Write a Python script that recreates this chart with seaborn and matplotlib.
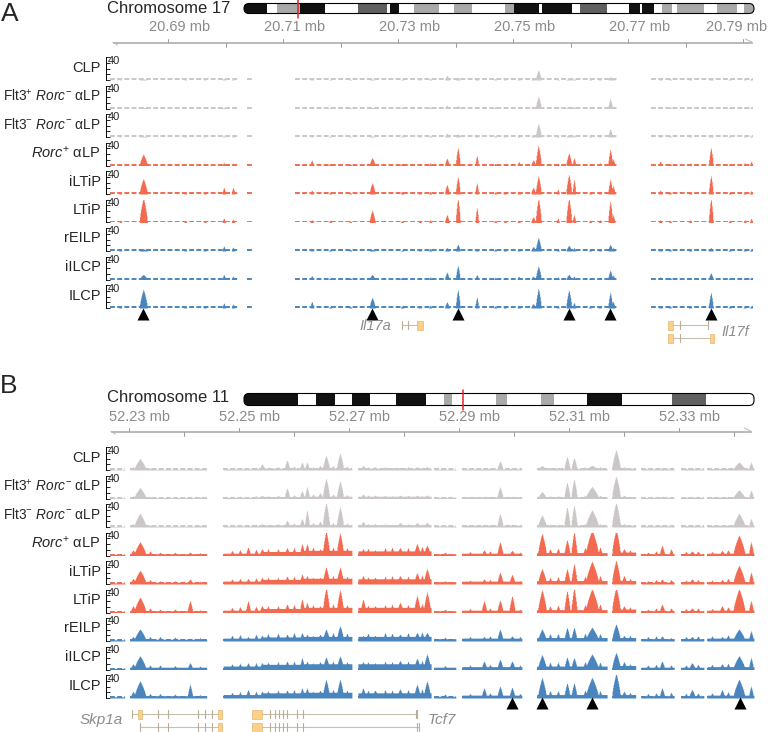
import numpy as np
import pandas as pd
import matplotlib
matplotlib.use("Agg")
import matplotlib.pyplot as plt
from matplotlib.patches import FancyBboxPatch, Rectangle
import seaborn as sns

# ---- data -------------------------------------------------------------
track_names = ["CLP", "Flt3+ Rorc- aLP", "Flt3- Rorc- aLP", "Rorc+ aLP",
               "iLTiP", "LTiP", "rEILP", "iILCP", "ILCP"]
track_labels = ["CLP", r"Flt3$^{+}$ $\mathit{Rorc}^{-}$ αLP",
                r"Flt3$^{-}$ $\mathit{Rorc}^{-}$ αLP", r"$\mathit{Rorc}^{+}$ αLP",
                "iLTiP", "LTiP", "rEILP", "iILCP", "ILCP"]

# panel A: chr17 (mb)
a_ticks = [20.69, 20.70, 20.71, 20.72, 20.73, 20.74, 20.75, 20.76, 20.77, 20.78, 20.79]
a_segments = [(20.6799, 20.7022), (20.7037, 20.7046), (20.7121, 20.7681), (20.7740, 20.7917)]
a_peak_pos = [20.6857, 20.6997, 20.7013, 20.7150, 20.7255, 20.7307, 20.7385, 20.7404,
              20.7437, 20.7510, 20.7535, 20.7544, 20.7578, 20.7597, 20.7606, 20.7669,
              20.7674, 20.7756, 20.7844, 20.7914]
a_peak_kb = [1.4, 0.6, 0.6, 0.6, 1.0, 0.6, 0.8, 0.8, 0.6, 0.6,
             0.8, 1.0, 0.5, 1.0, 0.6, 0.8, 0.6, 0.6, 0.8, 0.5]
a_heights = [
    [2, 3, 2, 2, 2, 2, 8, 5, 4, 3, 4, 18, 2, 3, 2, 6, 3, 3, 4, 3],
    [2, 2, 2, 1, 2, 2, 6, 5, 3, 3, 4, 22, 2, 4, 3, 18, 4, 3, 4, 3],
    [2, 2, 2, 1, 2, 2, 7, 6, 4, 3, 4, 24, 2, 4, 3, 15, 4, 3, 4, 3],
    [20, 5, 4, 10, 14, 4, 13, 32, 18, 7, 10, 36, 4, 22, 14, 29, 12, 8, 32, 8],
    [27, 12, 12, 7, 20, 5, 17, 31, 20, 5, 12, 32, 9, 35, 26, 26, 15, 7, 33, 6],
    [44, 8, 6, 5, 22, 3, 14, 44, 27, 3, 10, 44, 8, 44, 14, 38, 14, 5, 44, 8],
    [4, 9, 7, 2, 3, 2, 6, 12, 3, 3, 8, 24, 5, 10, 6, 12, 6, 3, 6, 4],
    [9, 9, 6, 7, 9, 4, 13, 25, 9, 6, 6, 24, 5, 9, 6, 17, 8, 5, 12, 4],
    [33, 9, 7, 12, 19, 4, 11, 33, 20, 5, 8, 35, 4, 32, 10, 28, 12, 4, 28, 4],
]
# small bumps: position, then height for gray / red / blue tracks
a_minor_pos = [20.6817, 20.6930, 20.6964, 20.7182, 20.7217, 20.7338, 20.7356, 20.7469,
               20.7486, 20.7634, 20.7651, 20.7773, 20.7808, 20.7877, 20.7903]
a_minor_gray = [1, 2, 1, 2, 2, 2, 3, 3, 3, 3, 3, 3, 3, 3, 3]
a_minor_red = [3, 3, 3, 4, 3, 4, 5, 4, 4, 4, 5, 4, 5, 4, 5]
a_minor_blue = [3, 3, 3, 3, 3, 4, 5, 4, 4, 4, 4, 4, 4, 4, 4]
a_arrows = [20.6857, 20.7255, 20.7404, 20.7597, 20.7669, 20.7844]

# panel B: chr11 (mb)
b_ticks = [52.23, 52.24, 52.25, 52.26, 52.27, 52.28, 52.29, 52.30, 52.31, 52.32, 52.33, 52.34]
b_segments = [(52.2265, 52.22927), (52.23018, 52.24418), (52.24709, 52.25400),
              (52.25400, 52.26109), (52.26109, 52.27055), (52.27164, 52.28491),
              (52.28545, 52.28945), (52.29055, 52.30145), (52.30418, 52.31691),
              (52.31782, 52.32218), (52.32309, 52.32909), (52.33036, 52.33455),
              (52.33509, 52.3436)]
b_background = [
    [1, 1.5, 2, 3, 3, 3, 1.5, 2, 2.5, 3, 2, 2, 2.5],
    [1, 1.5, 2, 3.5, 4, 4, 2, 3, 3, 3, 2, 2, 2.5],
    [1, 1.5, 2, 3.5, 4, 4, 2, 3, 3, 3, 2, 2, 3],
    [2, 3, 4, 7, 9, 8, 3, 4, 5, 6, 3, 3, 4],
    [2, 3, 5, 8, 10, 9, 4, 5, 6, 6, 3, 4, 4],
    [2, 3, 4, 7, 9, 9, 3, 4, 5, 6, 3, 3, 4],
    [2, 3, 5, 7, 8, 8, 4, 5, 6, 6, 4, 4, 5],
    [2, 4, 6, 9, 10, 10, 4, 5, 6, 7, 4, 4, 5],
    [2, 4, 6, 9, 10, 9, 3, 5, 6, 6, 4, 4, 5],
]
b_peak_pos = [52.23073, 52.23200, 52.24109, 52.25164, 52.25418, 52.25873, 52.26145, 52.26236,
              52.26345, 52.26473, 52.26582, 52.26836, 52.27255, 52.27473, 52.27927, 52.28236,
              52.28418, 52.29455, 52.29745, 52.29964, 52.30509, 52.30964, 52.31091, 52.31418,
              52.31855, 52.32000, 52.32691, 52.32855, 52.33236, 52.33782, 52.34091, 52.34309]
b_peak_kb = [1.0, 2.2, 1.0, 0.9, 1.0, 1.0, 0.9, 0.9, 0.8, 1.0, 1.3, 1.3, 1.0, 1.2, 1.2, 1.2,
             1.3, 1.0, 1.1, 1.1, 1.6, 1.1, 1.1, 2.4, 1.6, 1.0, 1.0, 0.8, 1.2, 1.0, 2.2, 0.9]
b_heights = [
    [6, 20, 3, 3, 11, 18, 14, 14, 6, 8, 26, 30, 8, 6, 5, 6, 6, 4, 16, 4, 8, 24, 22, 8, 36, 6, 4, 4, 4, 4, 14, 14],
    [5, 19, 3, 3, 6, 19, 14, 21, 8, 10, 36, 31, 8, 6, 6, 6, 6, 4, 21, 4, 12, 29, 35, 21, 40, 6, 4, 4, 4, 4, 15, 15],
    [6, 24, 3, 3, 6, 12, 15, 30, 8, 10, 44, 36, 10, 6, 8, 8, 8, 5, 24, 5, 21, 36, 39, 30, 44, 6, 4, 4, 4, 4, 24, 15],
    [10, 24, 6, 15, 12, 14, 21, 21, 15, 12, 44, 40, 12, 10, 14, 21, 18, 10, 24, 9, 39, 28, 42, 45, 46, 12, 18, 12, 8, 9, 36, 24],
    [10, 24, 9, 10, 12, 14, 18, 15, 12, 12, 30, 30, 15, 12, 15, 20, 27, 9, 21, 17, 27, 27, 36, 40, 42, 15, 9, 8, 9, 8, 33, 21],
    [12, 27, 21, 21, 12, 15, 24, 18, 14, 12, 44, 40, 24, 12, 18, 30, 36, 21, 22, 30, 40, 39, 44, 42, 45, 12, 15, 8, 8, 12, 42, 21],
    [8, 21, 5, 8, 10, 12, 15, 12, 10, 12, 21, 27, 10, 10, 12, 15, 15, 8, 21, 9, 21, 24, 24, 24, 30, 10, 9, 6, 8, 8, 21, 18],
    [10, 24, 12, 12, 12, 15, 21, 15, 12, 14, 22, 24, 14, 12, 16, 20, 27, 15, 18, 15, 26, 22, 21, 27, 30, 14, 15, 8, 12, 10, 24, 21],
    [12, 30, 24, 15, 12, 14, 18, 18, 12, 14, 33, 33, 18, 14, 16, 24, 30, 18, 21, 19, 36, 27, 27, 36, 44, 12, 18, 10, 15, 15, 33, 21],
]
b_minor_pos = [52.23382, 52.23564, 52.23836, 52.24291, 52.24873, 52.25018, 52.25309, 52.25527,
               52.25709, 52.26000, 52.26709, 52.26964, 52.27345, 52.27655, 52.27782, 52.28073,
               52.28327, 52.28745, 52.29200, 52.29564, 52.30109, 52.30655, 52.30800, 52.31291,
               52.31564, 52.32109, 52.32436, 52.32582, 52.33127, 52.33345, 52.33600, 52.33891]
b_minor_gray = [4, 3, 3, 3, 4, 4, 5, 5, 6, 7, 8, 7, 6, 6, 5, 6, 5, 3, 4, 4, 3, 5, 5, 6,
                6, 4, 3, 3, 3, 3, 3, 4]
b_minor_red = [8, 6, 6, 5, 9, 10, 11, 12, 12, 14, 15, 14, 13, 14, 15, 14, 16, 6, 7, 8, 6, 12,
               13, 14, 15, 10, 6, 8, 7, 8, 7, 10]
b_minor_blue = [8, 8, 7, 6, 10, 11, 12, 13, 14, 15, 15, 14, 14, 15, 14, 15, 16, 7, 8, 9, 8, 13,
                13, 14, 13, 10, 8, 9, 8, 9, 9, 11]
b_arrows = [52.29964, 52.30509, 52.31418, 52.34109]

# cytobands (pixel edges of the ideogram) and shades
cyto17_edges = [244, 267, 277, 300, 325, 358, 387, 390, 399, 414, 439, 454, 472, 505, 514, 539,
                542, 572, 580, 607, 629, 640, 642, 654, 662, 672, 677, 704, 717, 737, 744, 754]
cyto17_shades = ["k", "w", "lg", "k", "w", "dg", "w", "k", "w", "lg", "w", "lg", "w", "lg", "k",
                 "w", "k", "w", "dg", "w", "k", "w", "k", "w", "lg", "w", "lg", "w", "lg", "w", "lg"]
cyto11_edges = [244, 298, 316, 335, 352, 370, 396, 426, 444, 452, 496, 507, 541, 554, 587, 622,
                672, 706, 754]
cyto11_shades = ["k", "w", "k", "w", "k", "w", "k", "w", "lg", "w", "lg", "w", "lg", "w", "k",
                 "w", "dg", "w"]

# gene models: (row y, span, exon boxes, thin exon ticks)
il17a = [(325, (20.7307, 20.7343), [(20.7333, 20.7343)], [20.7307, 20.7317])]
il17f = [(325, (20.7770, 20.7839), [(20.7770, 20.7778)], [20.7790, 20.7839]),
         (338, (20.7770, 20.7850), [(20.7770, 20.7778), (20.7843, 20.7850)], [20.7790])]
skp1a = [(714, (52.23055, 52.24691), [(52.23164, 52.23236), (52.24618, 52.24691)],
          [52.23055, 52.23527, 52.23709, 52.24255, 52.24382, 52.24509]),
         (727, (52.23200, 52.24691), [(52.24618, 52.24691)],
          [52.23200, 52.23527, 52.23709, 52.24255, 52.24382, 52.24509])]
tcf7 = [(714, (52.25236, 52.28236), [(52.25236, 52.25418)],
         [52.25564, 52.25655, 52.25727, 52.25800, 52.25873, 52.26055, 52.26164, 52.28218, 52.28236]),
        (727, (52.25236, 52.28273), [(52.25236, 52.25418)],
         [52.25564, 52.25655, 52.25727, 52.25800, 52.25873, 52.26055, 52.26164, 52.28236, 52.28273])]

# ---- style ------------------------------------------------------------
sns.set_style("white")
plt.rcParams["font.family"] = ["Liberation Sans", "DejaVu Sans"]
plt.rcParams["mathtext.fontset"] = "custom"
plt.rcParams["mathtext.rm"] = "Liberation Sans"
plt.rcParams["mathtext.it"] = "Liberation Sans:italic"
plt.rcParams["mathtext.bf"] = "Liberation Sans:bold"

GRAY, RED, BLUE = "#cbc7c6", "#f26a50", "#4a85bd"
track_colors = [GRAY] * 3 + [RED] * 3 + [BLUE] * 3
shade_col = {"k": "#111111", "w": "white", "lg": "#a9a9a9", "dg": "#606060"}

W, H = 768, 732
fig = plt.figure(figsize=(W / 100, H / 100), dpi=100)


def px_axes(x0, y0, x1, y1):
    return fig.add_axes([x0 / W, 1 - y1 / H, (x1 - x0) / W, (y1 - y0) / H])


ov = px_axes(0, 0, W, H)
ov.set_xlim(0, W)
ov.set_ylim(H, 0)
ov.axis("off")


def draw_ideogram(edges, shades, y0, h, red_x):
    outline = FancyBboxPatch((edges[0], y0), edges[-1] - edges[0], h,
                             boxstyle="round,pad=0,rounding_size=5",
                             fc="none", ec="black", lw=0.8, zorder=3)
    ov.add_patch(outline)
    clip = FancyBboxPatch((edges[0], y0), edges[-1] - edges[0], h,
                          boxstyle="round,pad=0,rounding_size=5", transform=ov.transData)
    for s, e, sh in zip(edges[:-1], edges[1:], shades):
        r = Rectangle((s, y0), e - s, h, fc=shade_col[sh], ec="none", zorder=2)
        ov.add_patch(r)
        r.set_clip_path(clip)
    ov.plot([red_x, red_x], [y0 - 4, y0 + h + 4], color="#e3242b", lw=1.1, zorder=4)


def draw_ruler(ax, xlim, y, ticks, label_y):
    x0, x1 = xlim
    for dy in (0, 1.6):
        ax.plot([x0, x1], [y + dy, y + dy], color="#b8b8b8", lw=0.7, clip_on=False)
    ax.plot([x1 - 0.0012, x1], [y - 2.5, y + 0.8], color="#b8b8b8", lw=0.7, clip_on=False)
    ax.plot([x0 + 0.0008, x0], [y + 3.5, y + 0.8], color="#b8b8b8", lw=0.7, clip_on=False)
    for k, t in enumerate(ticks):
        if k % 2 == 0:
            ax.plot([t, t], [y - 3, y], color="#9a9a9a", lw=0.7, clip_on=False)
            lx = min(t + 0.002, xlim[1] - 0.0028)
            ax.text(lx, label_y, f"{t:.2f} mb", ha="center", va="center",
                    fontsize=10.5, color="#8a8a8a", clip_on=False)
        else:
            ax.plot([t, t], [y + 1.6, y + 5], color="#9a9a9a", lw=0.7, clip_on=False)


def build_signal(centers, segs, levels, peaks):
    sig = np.zeros_like(centers)
    cov = np.zeros(centers.shape, bool)
    for (s, e), lv in zip(segs, levels):
        m = (centers >= s) & (centers < e)
        cov |= m
        sig[m] = lv
    for p, w, h in peaks:
        half = w / 1000 / 2
        shape = np.clip(1 - np.abs(centers - p) / half, 0, 1) ** 0.7
        sig = np.maximum(sig, h * shape)
    sig[~cov] = 0
    return sig


def draw_tracks(top0, xlim, segs, bg, pos, kb, heights, mpos, mgray, mred, mblue, mkb):
    step = 0.0001
    centers = np.arange(xlim[0] + step / 2, xlim[1], step)
    for i in range(9):
        top = top0 + 28.5 * i
        ax = px_axes(105.5, top, 754, top + 23)
        levels = bg[i] if bg is not None else [0] * len(segs)
        minor = [mgray, mred, mblue][i // 3]
        peaks = list(zip(pos, kb, heights[i])) + [(p, mkb, h) for p, h in zip(mpos, minor)]
        sig = build_signal(centers, segs, levels, peaks)
        df = pd.DataFrame({"pos": centers, "signal": sig})
        sns.histplot(data=df, x="pos", weights="signal", binwidth=step,
                     binrange=(xlim[0], xlim[0] + step * len(centers)),
                     element="step", fill=True, color=track_colors[i], alpha=1,
                     linewidth=0, ax=ax)
        for s, e in segs:
            ax.plot([s, e], [1.7, 1.7], color=track_colors[i], lw=1.4,
                    ls=(0, (2.5, 1.2)), solid_capstyle="butt")
        ax.set_xlim(xlim)
        ax.set_ylim(0, 40)
        ax.set_xlabel("")
        ax.set_ylabel("")
        ax.set_xticks([])
        ax.set_yticks([0, 10, 20, 30, 40])
        ax.tick_params(axis="y", direction="in", length=3, width=0.6, left=True,
                       labelleft=False, colors="black")
        for sp in ["top", "right", "bottom"]:
            ax.spines[sp].set_visible(False)
        ax.spines["left"].set_linewidth(0.7)
        ax.spines["left"].set_color("black")
        ax.patch.set_alpha(0)
        ov.text(108, top - 1.5, "40", fontsize=8, ha="left", va="top")
        fs = 9.8 if "Flt3" in track_labels[i] else 10.5
        ov.text(101, top + 10.5, track_labels[i], fontsize=fs, ha="right", va="center")


def draw_gene(ax, rows):
    for y, (s, e), exons, ticks in rows:
        ax.plot([s, e], [y, y], color="#c9bfb0", lw=0.8, zorder=2)
        for t in ticks:
            ax.plot([t, t], [y - 4, y + 4], color="#b9ad9a", lw=0.8, zorder=3)
        for a, b in exons:
            ax.add_patch(Rectangle((a, y - 4.5), b - a, 9, fc="#fbd08a", ec="#e3b871",
                                   lw=0.5, zorder=4))


def ann_axes(xlim, y0, y1):
    ax = px_axes(105.5, y0, 754, y1)
    ax.set_xlim(xlim)
    ax.set_ylim(y1, y0)
    ax.axis("off")
    return ax


# ---- panel A ----------------------------------------------------------
xa = (20.67913, 20.79191)
ov.text(1, 21, "A", fontsize=19, ha="left", va="baseline")
ov.text(107, 8.5, "Chromosome 17", fontsize=12, ha="left", va="center")
draw_ideogram(cyto17_edges, cyto17_shades, 3.5, 10, 298)
draw_tracks(57, xa, a_segments, None, a_peak_pos, a_peak_kb, a_heights,
            a_minor_pos, a_minor_gray, a_minor_red, a_minor_blue, 0.5)
ann_a = ann_axes(xa, 20, 350)
draw_ruler(ann_a, (20.6804, 20.7916), 41.5, a_ticks, 27)
sns.scatterplot(x=a_arrows, y=[314] * len(a_arrows), marker="^", s=75, color="black",
                linewidth=0, ax=ann_a, legend=False, clip_on=False)
draw_gene(ann_a, il17a)
draw_gene(ann_a, il17f)
ann_a.text(20.7260, 326, "Il17a", fontsize=10.5, style="italic", color="#8c8c8c",
           ha="center", va="center")
ann_a.text(20.7863, 332, "Il17f", fontsize=10.5, style="italic", color="#8c8c8c",
           ha="left", va="center", clip_on=False)

# ---- panel B ----------------------------------------------------------
xb = (52.22573, 52.34364)
ov.text(0, 393, "B", fontsize=19, ha="left", va="baseline")
ov.text(107, 397, "Chromosome 11", fontsize=12, ha="left", va="center")
draw_ideogram(cyto11_edges, cyto11_shades, 393.5, 12, 463)
draw_tracks(447, xb, b_segments, b_background, b_peak_pos, b_peak_kb, b_heights,
            b_minor_pos, b_minor_gray, b_minor_red, b_minor_blue, 0.8)
ann_b = ann_axes(xb, 405, 732)
draw_ruler(ann_b, (52.2267, 52.3431), 430.5, b_ticks, 417)
sns.scatterplot(x=b_arrows, y=[703] * len(b_arrows), marker="^", s=75, color="black",
                linewidth=0, ax=ann_b, legend=False, clip_on=False)
draw_gene(ann_b, skp1a)
draw_gene(ann_b, tcf7)
ov.text(123, 720, "Skp1a", fontsize=11, style="italic", color="#8c8c8c", ha="right", va="center")
ov.text(428, 720, "Tcf7", fontsize=11, style="italic", color="#8c8c8c", ha="left", va="center")

fig.savefig("out.png", dpi=100)
